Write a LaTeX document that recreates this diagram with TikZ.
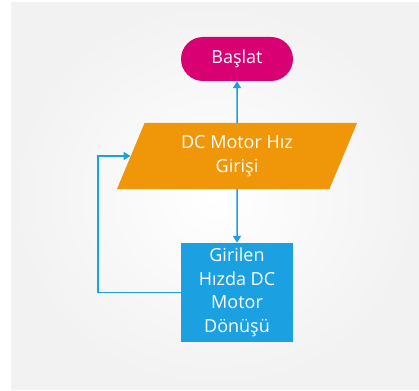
\documentclass[tikz,border=0pt]{standalone}
\usepackage{fontspec}
\setmainfont{Open Sans}
\usepackage{xcolor}
\usepackage{tikz}
\usetikzlibrary{positioning}
\usetikzlibrary{shapes.geometric}
\usetikzlibrary{arrows.meta}
\definecolor{startmag}{HTML}{D80073}
\definecolor{inorange}{HTML}{F09609}
\definecolor{actblue}{HTML}{1BA1E2}
\definecolor{bggray}{HTML}{F2F2F2}
\tikzstyle{term}=[rectangle,rounded corners=22pt,fill=startmag,text=white,minimum width=112pt,minimum height=44pt,inner sep=0pt]
\tikzset{io/.style={trapezium,trapezium left angle=56,trapezium right angle=124,trapezium stretches body,fill=inorange,text=white,align=center,minimum width=240pt,minimum height=66pt,inner sep=0pt}}
\tikzset{act/.style={rectangle,fill=actblue,text=white,align=center,minimum width=112pt,minimum height=99pt,inner sep=0pt}}
\tikzset{flow/.style={-{Triangle[width=8pt,length=7pt]},draw=actblue,line width=1.5pt}}

\begin{document}
\begin{tikzpicture}[x=1pt,y=-1pt,font=\fontsize{18}{23.5}\selectfont]

    % background
    \fill[white] (0,0) rectangle (419,390);
    \shade[inner color=white,outer color=bggray] (11,3) rectangle (419,389);
    \useasboundingbox (0,0) rectangle (419,390);

    \node[term] (start) at (237,59) {Başlat};
    \node[io] (speed) at (237,156) {DC Motor Hız\\Girişi};
    \node[act] (turn) at (237,292.5) {Girilen\\Hızda DC\\Motor\\Dönüşü};

    \draw[flow] (speed) -- (start);
    \draw[flow] (speed) -- (turn);
    \draw[flow] (turn.west) -- ++(-83,0) |- (speed.west);

\end{tikzpicture}
\end{document}
